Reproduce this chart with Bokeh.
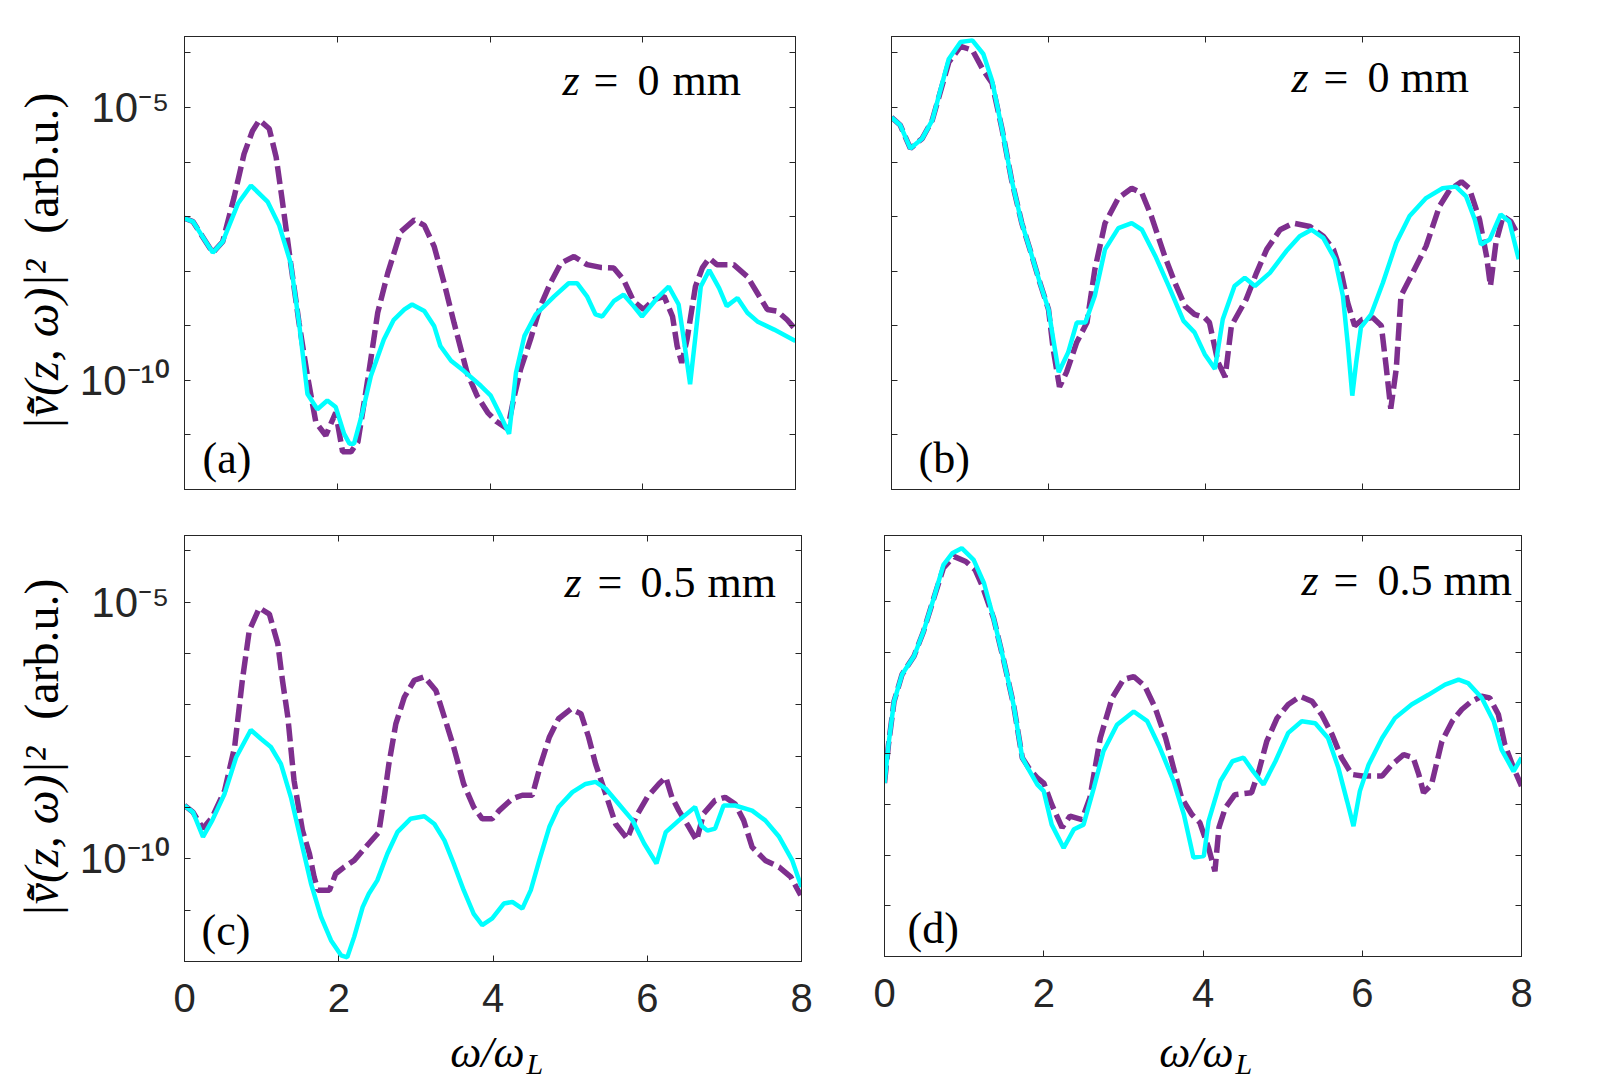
import math
from bokeh.plotting import figure
from bokeh.models import (Range1d, LogAxis, LinearAxis, FixedTicker,
                          CustomJSTickFormatter, Label)
from bokeh.layouts import column, row
from bokeh.embed import file_html
from bokeh.resources import INLINE

# ---------------------------------------------------------------------------
# Spectra |v(z, w)|^2 : frequency (w / w_L) and log10 of the spectral power
# ---------------------------------------------------------------------------
a_purple_w = [0.00, 0.11, 0.37, 0.50, 0.65, 0.78, 0.89, 0.98, 1.11, 1.20, 1.28, 1.39, 1.50, 1.61,
              1.72, 1.85, 1.98, 2.07, 2.18, 2.27, 2.40, 2.53, 2.66, 2.83, 3.01, 3.14, 3.27, 3.40,
              3.53, 3.70, 3.83, 3.97, 4.08, 4.23, 4.31, 4.40, 4.53, 4.66, 4.79, 4.93, 5.10, 5.27,
              5.45, 5.62, 5.75, 5.88, 6.01, 6.15, 6.28, 6.39, 6.45, 6.51, 6.58, 6.69, 6.78, 6.87,
              6.97, 7.19, 7.37, 7.50, 7.63, 7.76, 7.89, 8.00]
a_purple_e = [-7.03, -7.09, -7.66, -7.46, -6.64, -5.85, -5.43, -5.23, -5.39, -5.91, -6.70, -7.85, -8.95, -9.92,
              -10.77, -11.01, -10.59, -11.31, -11.31, -11.13, -9.98, -8.76, -8.04, -7.28, -7.06, -7.16, -7.55, -8.22,
              -8.95, -9.86, -10.28, -10.59, -10.75, -10.89, -10.34, -9.80, -9.25, -8.64, -8.22, -7.85, -7.73, -7.88,
              -7.93, -7.94, -8.16, -8.55, -8.70, -8.52, -8.46, -8.83, -9.37, -9.68, -9.25, -8.28, -7.94, -7.76,
              -7.88, -7.88, -8.10, -8.40, -8.70, -8.73, -8.89, -9.07]
a_cyan_w = [0.00, 0.11, 0.37, 0.50, 0.70, 0.87, 1.09, 1.24, 1.39, 1.50, 1.61, 1.74, 1.87, 1.98,
            2.09, 2.16, 2.22, 2.33, 2.44, 2.61, 2.74, 2.88, 2.98, 3.14, 3.27, 3.35, 3.49, 3.66,
            3.88, 4.01, 4.14, 4.25, 4.34, 4.45, 4.60, 4.84, 5.03, 5.14, 5.27, 5.38, 5.47, 5.62,
            5.75, 5.88, 5.99, 6.19, 6.34, 6.47, 6.55, 6.62, 6.69, 6.76, 6.87, 7.00, 7.10, 7.24,
            7.37, 7.50, 7.72, 8.00]
a_cyan_e = [-7.03, -7.09, -7.66, -7.46, -6.76, -6.43, -6.73, -7.16, -7.85, -8.95, -10.25, -10.53, -10.37, -10.49,
            -10.98, -11.16, -11.16, -10.59, -9.92, -9.25, -8.89, -8.70, -8.61, -8.73, -9.01, -9.37, -9.64, -9.83,
            -10.10, -10.28, -10.65, -10.98, -9.86, -9.19, -8.79, -8.46, -8.22, -8.22, -8.46, -8.79, -8.83, -8.55,
            -8.43, -8.64, -8.83, -8.49, -8.28, -8.61, -9.37, -10.07, -9.19, -8.28, -7.98, -8.31, -8.64, -8.49,
            -8.76, -8.92, -9.07, -9.28]

b_purple_w = [0.00, 0.11, 0.24, 0.39, 0.52, 0.73, 0.88, 1.03, 1.17, 1.28, 1.41, 1.53, 1.66, 1.77,
              1.89, 2.00, 2.06, 2.14, 2.23, 2.36, 2.49, 2.59, 2.72, 2.89, 3.06, 3.19, 3.31, 3.48,
              3.61, 3.74, 3.86, 3.99, 4.05, 4.16, 4.25, 4.33, 4.52, 4.65, 4.78, 4.95, 5.12, 5.33,
              5.50, 5.63, 5.73, 5.81, 5.90, 6.00, 6.13, 6.24, 6.30, 6.36, 6.43, 6.49, 6.64, 6.81,
              6.98, 7.11, 7.26, 7.36, 7.49, 7.58, 7.63, 7.70, 7.79, 7.89, 7.99]
b_purple_e = [-5.18, -5.32, -5.75, -5.57, -5.23, -4.17, -3.88, -3.95, -4.32, -4.55, -5.41, -6.33, -7.12, -7.63,
              -8.21, -8.70, -9.43, -10.12, -9.85, -9.30, -8.94, -7.97, -7.12, -6.66, -6.48, -6.57, -6.99, -7.72,
              -8.21, -8.64, -8.79, -8.85, -8.94, -9.67, -9.94, -9.00, -8.51, -8.03, -7.60, -7.24, -7.12, -7.18,
              -7.36, -7.60, -8.03, -8.57, -9.00, -8.88, -8.85, -9.00, -9.73, -10.52, -9.79, -8.45, -8.03, -7.54,
              -6.81, -6.51, -6.36, -6.48, -7.05, -7.72, -8.27, -7.48, -6.99, -7.09, -7.36]
b_cyan_w = [0.00, 0.11, 0.24, 0.39, 0.52, 0.73, 0.88, 1.03, 1.17, 1.28, 1.41, 1.53, 1.66, 1.77,
            1.89, 2.00, 2.06, 2.13, 2.25, 2.36, 2.47, 2.59, 2.72, 2.89, 3.06, 3.19, 3.36, 3.53,
            3.72, 3.86, 3.99, 4.12, 4.22, 4.37, 4.50, 4.63, 4.82, 5.03, 5.20, 5.35, 5.50, 5.65,
            5.75, 5.81, 5.87, 5.92, 5.98, 6.11, 6.26, 6.43, 6.60, 6.81, 7.02, 7.19, 7.32, 7.43,
            7.51, 7.62, 7.76, 7.87, 7.99]
b_cyan_e = [-5.18, -5.32, -5.75, -5.57, -5.23, -4.11, -3.80, -3.77, -4.02, -4.50, -5.41, -6.33, -7.12, -7.63,
            -8.21, -8.70, -9.24, -9.85, -9.49, -8.94, -8.94, -8.45, -7.60, -7.21, -7.12, -7.24, -7.72, -8.27,
            -8.91, -9.12, -9.52, -9.79, -8.88, -8.27, -8.12, -8.27, -8.03, -7.63, -7.36, -7.24, -7.39, -7.78,
            -8.45, -9.30, -10.28, -9.67, -9.03, -8.79, -8.21, -7.48, -6.99, -6.66, -6.48, -6.45, -6.63, -7.05,
            -7.51, -7.42, -6.96, -7.09, -7.78]

c_purple_w = [0.00, 0.11, 0.24, 0.36, 0.52, 0.65, 0.75, 0.84, 0.97, 1.10, 1.21, 1.27, 1.34, 1.42,
              1.53, 1.62, 1.68, 1.73, 1.88, 1.96, 2.07, 2.20, 2.35, 2.52, 2.59, 2.65, 2.74, 2.85,
              2.98, 3.11, 3.26, 3.37, 3.49, 3.62, 3.75, 3.86, 3.99, 4.08, 4.25, 4.38, 4.51, 4.62,
              4.73, 4.85, 5.01, 5.14, 5.24, 5.33, 5.46, 5.59, 5.74, 5.85, 6.00, 6.15, 6.24, 6.32,
              6.41, 6.54, 6.64, 6.73, 6.88, 7.01, 7.14, 7.25, 7.36, 7.53, 7.71, 7.86, 7.99]
c_purple_e = [-8.96, -9.09, -9.41, -9.19, -8.67, -7.82, -6.52, -5.55, -5.11, -5.23, -5.81, -6.52, -7.24, -8.47,
              -9.45, -9.90, -10.35, -10.61, -10.61, -10.29, -10.16, -10.03, -9.77, -9.48, -8.80, -8.15, -7.37, -6.85,
              -6.52, -6.45, -6.72, -7.24, -7.82, -8.54, -8.99, -9.22, -9.22, -9.06, -8.83, -8.76, -8.76, -8.15,
              -7.63, -7.27, -7.08, -7.17, -7.63, -8.15, -8.73, -9.32, -9.61, -9.19, -8.80, -8.54, -8.41, -8.80,
              -9.06, -9.38, -9.64, -9.12, -8.86, -8.80, -8.93, -9.25, -9.77, -10.03, -10.16, -10.35, -10.71]
c_cyan_w = [0.00, 0.11, 0.24, 0.36, 0.52, 0.67, 0.86, 0.99, 1.12, 1.25, 1.38, 1.51, 1.64, 1.77,
            1.90, 2.03, 2.11, 2.20, 2.31, 2.39, 2.50, 2.63, 2.76, 2.93, 3.11, 3.24, 3.37, 3.49,
            3.62, 3.75, 3.86, 3.99, 4.14, 4.25, 4.38, 4.49, 4.60, 4.73, 4.85, 5.03, 5.20, 5.33,
            5.46, 5.63, 5.81, 5.96, 6.12, 6.24, 6.41, 6.62, 6.70, 6.78, 6.88, 6.99, 7.14, 7.36,
            7.53, 7.71, 7.88, 8.00]
c_cyan_e = [-8.96, -9.09, -9.57, -9.25, -8.73, -8.02, -7.49, -7.66, -7.82, -8.15, -8.80, -9.64, -10.48, -11.13,
            -11.59, -11.88, -11.92, -11.52, -10.94, -10.68, -10.42, -9.90, -9.48, -9.22, -9.17, -9.32, -9.64, -10.09,
            -10.61, -11.07, -11.29, -11.16, -10.87, -10.84, -10.97, -10.61, -10.03, -9.38, -8.99, -8.70, -8.54, -8.50,
            -8.63, -8.93, -9.25, -9.70, -10.09, -9.48, -9.25, -8.99, -9.35, -9.45, -9.41, -8.96, -8.96, -9.06,
            -9.25, -9.57, -10.03, -10.55]

d_purple_w = [0.00, 0.05, 0.12, 0.22, 0.37, 0.49, 0.62, 0.74, 0.87, 1.02, 1.14, 1.23, 1.37, 1.50,
              1.62, 1.73, 1.81, 1.92, 2.00, 2.10, 2.23, 2.33, 2.48, 2.58, 2.71, 2.86, 3.00, 3.13,
              3.27, 3.40, 3.53, 3.63, 3.73, 3.86, 3.96, 4.07, 4.15, 4.20, 4.28, 4.40, 4.61, 4.70,
              4.80, 4.93, 5.07, 5.22, 5.37, 5.49, 5.62, 5.74, 5.87, 6.00, 6.25, 6.37, 6.52, 6.64,
              6.71, 6.77, 6.87, 7.00, 7.13, 7.25, 7.37, 7.50, 7.60, 7.71, 7.79, 7.90, 8.00]
d_purple_e = [-8.58, -7.82, -6.97, -6.44, -6.08, -5.59, -4.93, -4.34, -4.11, -4.21, -4.38, -4.70, -5.33, -6.18,
              -7.03, -8.08, -8.28, -8.48, -8.58, -9.00, -9.46, -9.23, -9.30, -8.87, -7.69, -6.90, -6.54, -6.48,
              -6.67, -7.10, -7.69, -8.28, -8.87, -9.20, -9.36, -9.86, -10.32, -9.46, -9.07, -8.81, -8.77, -8.35,
              -7.76, -7.30, -7.03, -6.87, -6.97, -7.23, -7.62, -8.08, -8.41, -8.44, -8.44, -8.22, -8.02, -8.08,
              -8.41, -8.77, -8.61, -7.76, -7.36, -7.13, -6.97, -6.87, -6.90, -7.23, -7.82, -8.28, -8.64]
d_cyan_w = [0.00, 0.05, 0.12, 0.22, 0.37, 0.49, 0.62, 0.74, 0.85, 0.97, 1.12, 1.25, 1.37, 1.50,
            1.62, 1.73, 1.81, 1.92, 2.00, 2.10, 2.25, 2.38, 2.50, 2.63, 2.75, 2.92, 3.13, 3.30,
            3.46, 3.63, 3.76, 3.88, 4.01, 4.07, 4.22, 4.37, 4.51, 4.63, 4.76, 4.91, 5.07, 5.24,
            5.41, 5.57, 5.70, 5.81, 5.89, 5.97, 6.08, 6.25, 6.41, 6.62, 6.83, 7.04, 7.21, 7.33,
            7.50, 7.65, 7.75, 7.90, 8.00]
d_cyan_e = [-8.58, -7.82, -6.97, -6.44, -6.08, -5.59, -4.93, -4.28, -4.05, -3.95, -4.18, -4.64, -5.33, -6.18,
            -7.03, -8.08, -8.31, -8.61, -8.74, -9.40, -9.86, -9.49, -9.40, -8.67, -7.95, -7.43, -7.17, -7.36,
            -7.89, -8.54, -9.20, -10.05, -10.02, -9.33, -8.54, -8.15, -8.08, -8.35, -8.61, -8.15, -7.59, -7.36,
            -7.40, -7.69, -8.28, -8.94, -9.43, -8.74, -8.22, -7.69, -7.30, -7.03, -6.84, -6.64, -6.54, -6.61,
            -6.90, -7.36, -7.92, -8.35, -8.08]

panel_tags = ["(a)", "(b)", "(c)", "(d)"]
panel_z = ["0", "0", "0.5", "0.5"]
x_ticks = [0, 2, 4, 6, 8]
y_major = [1e-10, 1e-5]
y_minor = [1e-12, 1e-11, 1e-9, 1e-8, 1e-7, 1e-6, 1e-4]
y_title_math = "|v\u0304\u0303(z, \u03c9)|\u00b2"
y_title_unit = "(arb.u.)"
x_title = "\u03c9/\u03c9"
x_title_sub = "L"

PURPLE = "#7E2F8E"
CYAN = "#00FFFF"
AXIS = "#262626"
SERIF = "Liberation Serif"
SANS = "Liberation Sans"
LIFT = 0.33          # baseline correction, in em

LEFT_W = 72          # width of the strip holding the rotated y titles
BOTTOM_H = 52        # height of the strip holding the x titles
TOTAL_H = 1080

y_fmt = CustomJSTickFormatter(code="""
    const e = Math.round(Math.log10(tick));
    const sup = {"-": "\u207b", "0": "\u2070", "1": "\u00b9", "2": "\u00b2", "3": "\u00b3",
                 "4": "\u2074", "5": "\u2075", "6": "\u2076", "7": "\u2077", "8": "\u2078", "9": "\u2079"};
    return "10" + String(e).split("").map(c => sup[c]).join("");
""")
blank_fmt = CustomJSTickFormatter(code='return "";')


def style_axis(ax, ticker, labelled, font_px=42, standoff=10):
    ax.ticker = ticker
    ax.axis_line_color = AXIS
    ax.axis_line_width = 1
    ax.major_tick_line_color = AXIS
    ax.minor_tick_line_color = AXIS
    ax.major_tick_in = 6
    ax.major_tick_out = 0
    ax.minor_tick_in = 6
    ax.minor_tick_out = 0
    ax.axis_label = None
    if labelled:
        ax.major_label_text_font = SANS
        ax.major_label_text_font_size = f"{font_px}px"
        ax.major_label_text_color = "#262626"
        ax.major_label_standoff = standoff
    else:
        ax.formatter = blank_fmt
        ax.major_label_text_font_size = "1px"
        ax.major_label_standoff = 0


def label(p, text, x, y, size=44, style="normal", align="left", angle=0.0, units="screen"):
    # x, y give the baseline position; the lift keeps glyphs sitting on it
    if angle == 0.0:
        y = y + LIFT * size
    else:
        x = x - LIFT * size
    p.add_layout(Label(x=x, y=y, x_units=units, y_units=units, text=text,
                       text_font=SERIF, text_font_size=f"{size}px", text_font_style=style,
                       text_align=align, text_baseline="alphabetic", text_color="black",
                       angle=angle))


def panel(idx, purple_w, purple_e, cyan_w, cyan_e, frame, borders, left_labels, bottom_labels,
          z_pos, tag_pos):
    fw, fh = frame
    bl, br, bt, bb = borders
    p = figure(x_range=Range1d(0, 8), y_range=Range1d(1e-12, 2e-4), y_axis_type="log",
               frame_width=fw, frame_height=fh,
               min_border_left=bl, min_border_right=br, min_border_top=bt, min_border_bottom=bb,
               output_backend="svg", toolbar_location=None,
               background_fill_color="white", border_fill_color="white")
    p.grid.visible = False
    p.outline_line_color = AXIS
    p.outline_line_width = 1

    style_axis(p.xaxis[0], FixedTicker(ticks=x_ticks), bottom_labels, font_px=40, standoff=22)
    style_axis(p.yaxis[0], FixedTicker(ticks=y_major, minor_ticks=y_minor), left_labels,
               font_px=42, standoff=15)
    if left_labels:
        p.yaxis[0].formatter = y_fmt
    top = LinearAxis()
    style_axis(top, FixedTicker(ticks=x_ticks), False)
    p.add_layout(top, "above")
    right = LogAxis()
    style_axis(right, FixedTicker(ticks=y_major, minor_ticks=y_minor), False)
    p.add_layout(right, "right")

    p.line(purple_w, [10 ** e for e in purple_e], line_color=PURPLE, line_width=5.5,
           line_dash="18 6")
    p.line(cyan_w, [10 ** e for e in cyan_e], line_color=CYAN, line_width=4.5)

    # "z = ... mm", set piece by piece like typeset math
    zx, eqx, nx, mx, zy = z_pos
    label(p, "z", zx, zy, style="italic")
    label(p, "=", eqx, zy)
    label(p, panel_z[idx], nx, zy)
    label(p, "mm", mx, zy)
    label(p, panel_tags[idx], tag_pos[0], tag_pos[1], size=44)
    return p


pa = panel(0, a_purple_w, a_purple_e, a_cyan_w, a_cyan_e, (611, 453), (184 - LEFT_W, 40, 36, 20),
           True, False, (378, 409, 453, 488, 394), (18, 16))
pb = panel(1, b_purple_w, b_purple_e, b_cyan_w, b_cyan_e, (628, 453), (56, 30, 36, 20),
           False, False, (400, 432, 476, 509, 397), (27, 16))
row1_h = 36 + 453 + 20
row2_h = TOTAL_H - BOTTOM_H - row1_h
pc = panel(2, c_purple_w, c_purple_e, c_cyan_w, c_cyan_e, (617, 426),
           (184 - LEFT_W, 40, 25, row2_h - 25 - 426), True, True, (380, 413, 456, 523, 364), (17, 16))
pd = panel(3, d_purple_w, d_purple_e, d_cyan_w, d_cyan_e, (637, 421),
           (43, 30, 26, row2_h - 26 - 421), False, True, (417, 449, 493, 559, 361), (23, 13))


def strip(width, height, x0, y0):
    s = figure(x_range=Range1d(x0, x0 + width), y_range=Range1d(y0, y0 + height),
               frame_width=width, frame_height=height,
               min_border_left=0, min_border_right=0, min_border_top=0, min_border_bottom=0,
               x_axis_location=None, y_axis_location=None,
               output_backend="svg", toolbar_location=None,
               background_fill_color="white", border_fill_color="white")
    s.grid.visible = False
    s.outline_line_color = None
    return s


# rotated y titles; coordinates are page pixels counted up from the bottom edge
left = strip(LEFT_W, TOTAL_H, 0, 0)
for bottom_px, top_px in [(430, 92), (917, 578)]:
    label(left, y_title_math, 57, TOTAL_H - bottom_px, size=48, style="italic",
          angle=math.pi / 2, units="data")
    label(left, y_title_unit, 57, TOTAL_H - top_px, size=48, align="right",
          angle=math.pi / 2, units="data")

# x titles under the lower panels
bottom = strip(1600 - LEFT_W, BOTTOM_H, LEFT_W, 0)
for right_px in [524, 1233]:
    label(bottom, x_title, right_px, TOTAL_H - 1067, size=44, style="italic", align="right",
          units="data")
    label(bottom, x_title_sub, right_px + 2, TOTAL_H - 1073, size=30, style="italic",
          units="data")

layout = row(left, column(row(pa, pb), row(pc, pd), bottom))
open("out.html", "w").write(file_html(layout, INLINE))
